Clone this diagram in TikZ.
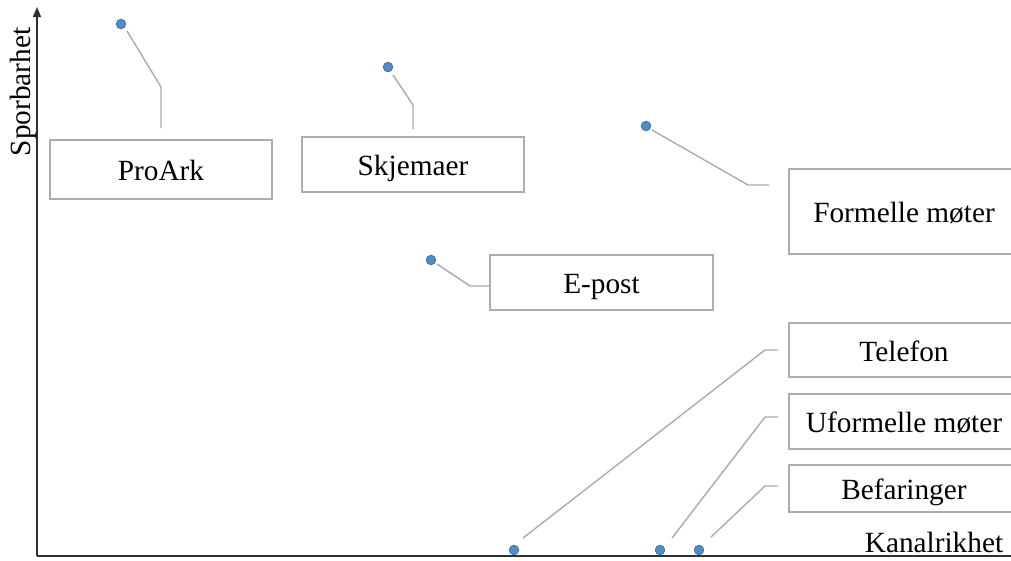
\documentclass[tikz,border=0pt]{standalone}
\usepackage{fontspec}
\setmainfont{Liberation Serif}
\usetikzlibrary{arrows.meta}
\definecolor{boxline}{HTML}{ADADAD}
\definecolor{leader}{HTML}{ABABAB}
\definecolor{dotfill}{HTML}{4F8DCB}
\definecolor{dotline}{HTML}{3B6EA5}
\definecolor{axis}{HTML}{303030}
\tikzset{
  label box/.style={draw=boxline, line width=1.4pt, fill=white, inner sep=0pt,
    text height=28pt, text depth=6pt, font=\fontsize{29.3}{34}\selectfont},
  point/.style={circle, fill=dotfill, draw=dotline, line width=0.8pt,
    minimum size=9.5pt, inner sep=0pt},
  leader line/.style={draw=leader, line width=1.4pt},
  axis line/.style={draw=axis, line width=1.4pt},
  axis title/.style={font=\fontsize{29.3}{34}\selectfont, inner sep=0pt}
}
\begin{document}
\begin{tikzpicture}[x=1pt, y=-1pt]
\useasboundingbox (0,0) rectangle (1011,560);

% axes
\coordinate (origin) at (37,556);
\coordinate (ytop) at (37,7);
\coordinate (xend) at (1030,556);
\draw[axis line, -{Triangle[length=10pt,width=8pt]}] (origin) -- (ytop);
\draw[axis line] (origin) -- (xend);
\node[axis title, rotate=90] (ytitle) at (23,92) {Sporbarhet};
\node[axis title] (xtitle) at (934,542) {Kanalrikhet};

% labels
\node[label box, minimum width=222pt, minimum height=59pt] (proark) at (161,169.5) {ProArk};
\node[label box, minimum width=222pt, minimum height=55pt] (skjema) at (413,164.5) {Skjemaer};
\node[label box, minimum width=230pt, minimum height=85pt] (formell) at (904,211.5) {Formelle møter};
\node[label box, minimum width=223pt, minimum height=55pt] (epost) at (601.5,282.5) {E-post};
\node[label box, minimum width=230pt, minimum height=54pt] (telefon) at (904,350) {Telefon};
\node[label box, minimum width=230pt, minimum height=55pt] (uformell) at (904,421.5) {Uformelle møter};
\node[label box, minimum width=230pt, minimum height=47pt] (befaring) at (904,488.5) {Befaringer};

% data points
\node[point] (dProark) at (121,24) {};
\node[point] (dSkjema) at (388,67) {};
\node[point] (dFormell) at (646,126) {};
\node[point] (dEpost) at (431,260) {};
\node[point] (dTelefon) at (514,550) {};
\node[point] (dUformell) at (660,550) {};
\node[point] (dBefaring) at (699,550) {};

% leader lines
\coordinate (sProark) at (127,31);   \coordinate (kProark) at (161,87);   \coordinate (eProark) at (161,128);
\coordinate (sSkjema) at (393,75);   \coordinate (kSkjema) at (413,105);  \coordinate (eSkjema) at (413,129);
\coordinate (sFormell) at (652,130); \coordinate (kFormell) at (748,185); \coordinate (eFormell) at (769,185);
\coordinate (sEpost) at (437,264);   \coordinate (kEpost) at (470,286);   \coordinate (eEpost) at (489,286);
\coordinate (sTelefon) at (523,538); \coordinate (kTelefon) at (765,350); \coordinate (eTelefon) at (778,350);
\coordinate (sUformell) at (672,538);\coordinate (kUformell) at (765,417);\coordinate (eUformell) at (778,417);
\coordinate (sBefaring) at (711,537);\coordinate (kBefaring) at (765,486);\coordinate (eBefaring) at (778,486);

\foreach \n in {Proark,Skjema,Formell,Epost,Telefon,Uformell,Befaring}
  \draw[leader line] (s\n) -- (k\n) -- (e\n);
\end{tikzpicture}
\end{document}
